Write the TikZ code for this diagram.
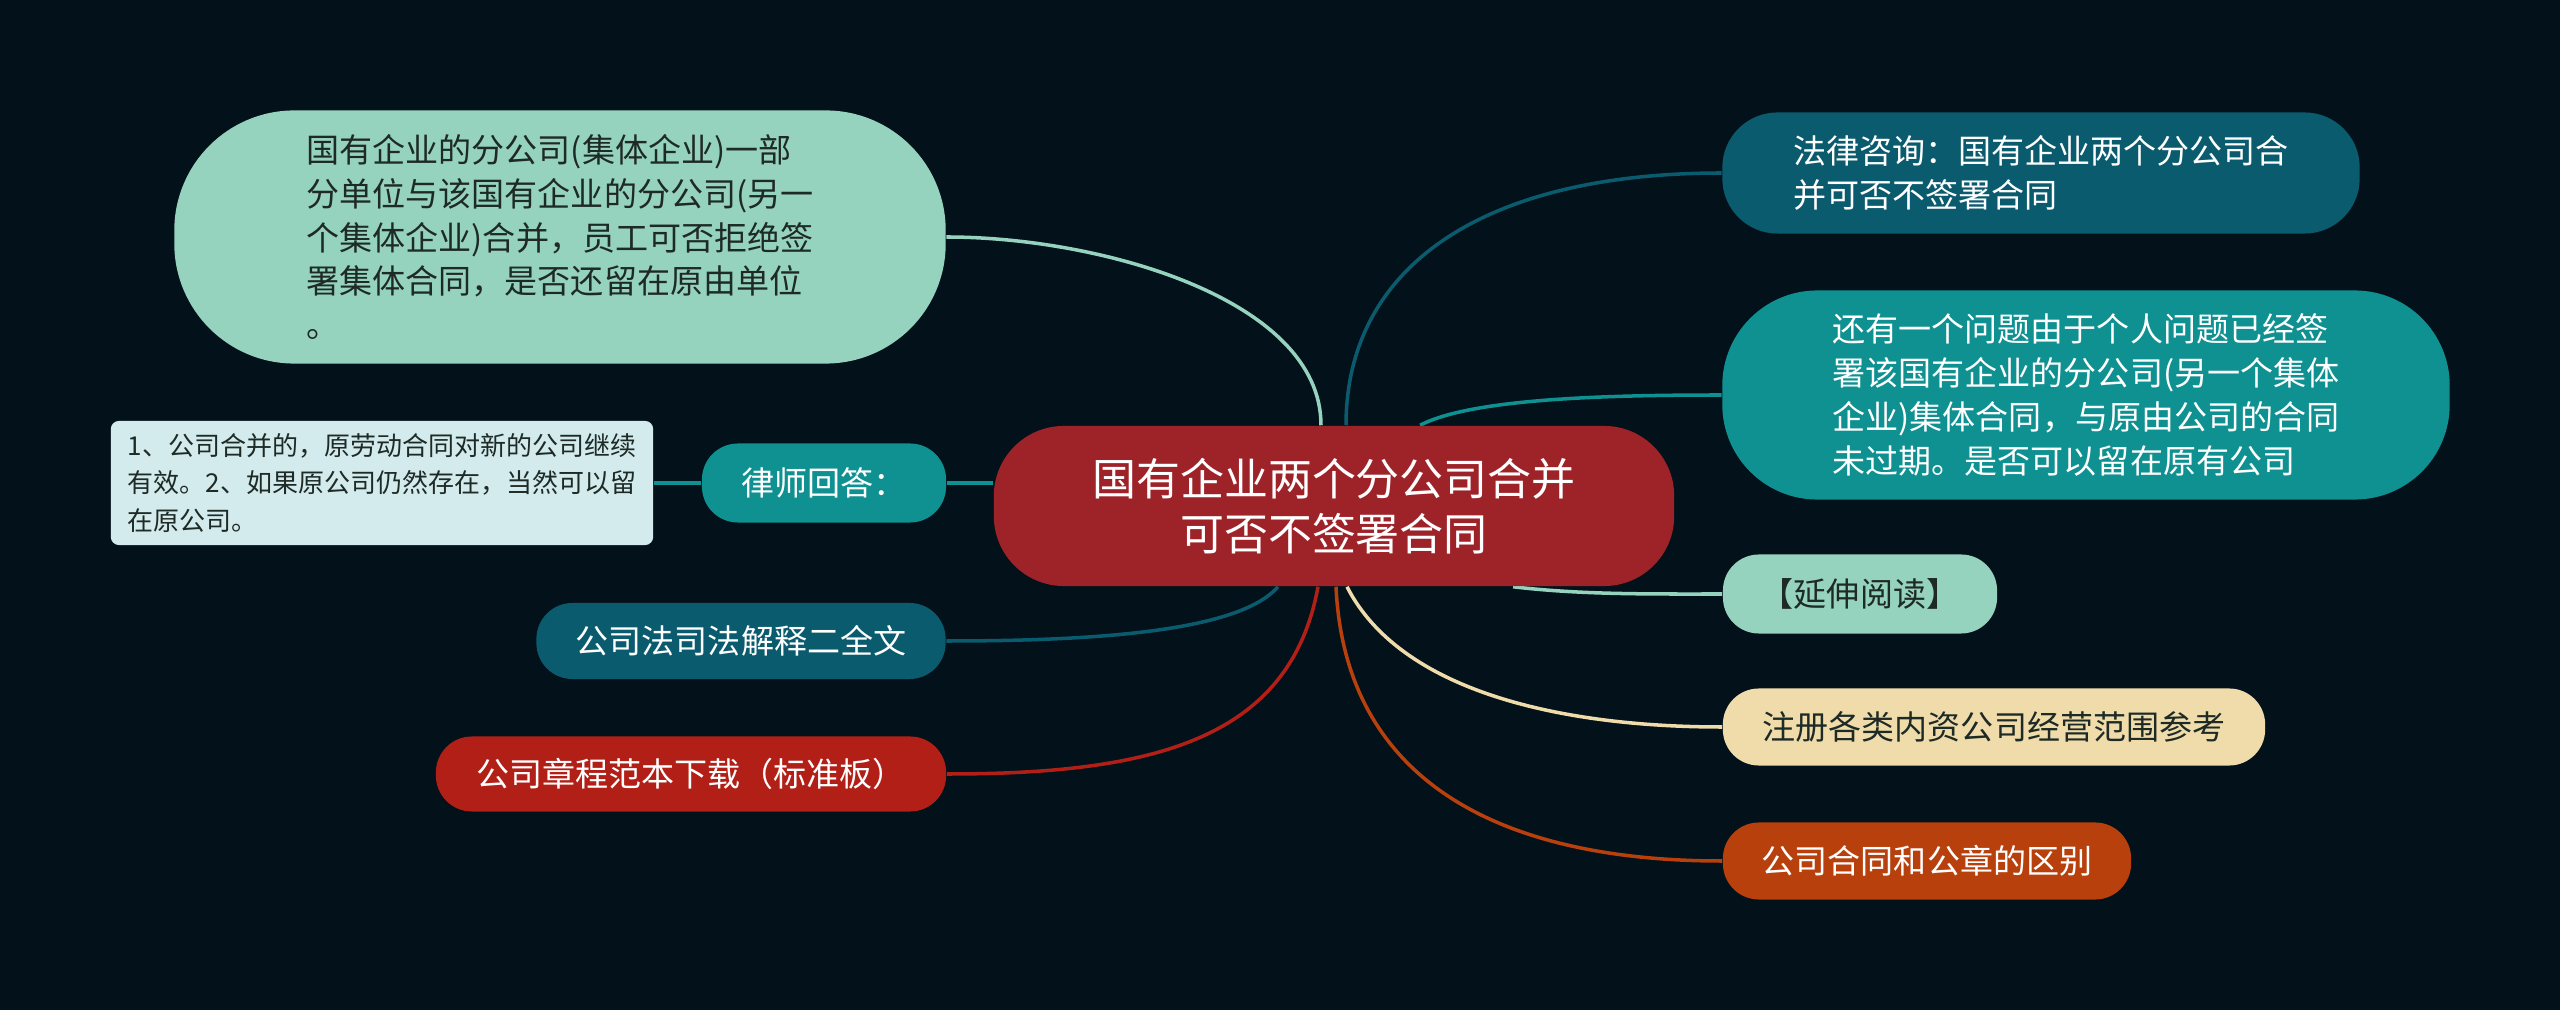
\documentclass[tikz,border=0pt]{standalone}
\usepackage{fontspec}
\setmainfont{Noto Sans CJK SC}
\usepackage{xcolor}
\usetikzlibrary{
    positioning,
    backgrounds,
}
\definecolor{bgnavy}{HTML}{03111A}
\definecolor{rootred}{HTML}{9E2329}
\definecolor{mint}{HTML}{96D3BF}
\definecolor{deepteal}{HTML}{0B5B6E}
\definecolor{midteal}{HTML}{0F9091}
\definecolor{brick}{HTML}{B21F16}
\definecolor{cream}{HTML}{EFDCAA}
\definecolor{rust}{HTML}{B8400D}
\definecolor{paleblue}{HTML}{D4EBEE}
\definecolor{inkdark}{HTML}{1E2A25}
\pgfdeclarelayer{edgelayer}
\pgfsetlayers{background,edgelayer,main}
\tikzset{
    % Node styles
    root node/.style={rectangle, rounded corners=7mm, fill=rootred, text=white,
                      align=center, inner sep=0pt, minimum width=6.8cm, minimum height=1.6cm,
                      font=\fontsize{12.5pt}{15.8pt}\selectfont},
    branch/.style={rectangle, rounded corners=#1, inner sep=0pt, align=left, text=white,
                   font=\fontsize{9.4pt}{12.5pt}\selectfont},
    branch/.default=3.6mm,
    note box/.style={rectangle, rounded corners=0.8mm, fill=paleblue, text=inkdark,
                     align=left, inner sep=0pt, font=\fontsize{7.4pt}{10.7pt}\selectfont},
    % Connector styles
    link/.style={line width=1pt},
}

\begin{document}
\begin{tikzpicture}[x=0.01cm, y=-0.01cm]
    % Canvas
    \begin{pgfonlayer}{background}
        \fill[bgnavy] (0,0) rectangle (2560,1010);
    \end{pgfonlayer}

    % Central topic
    \node[root node] (root) at (1334,506) {国有企业两个分公司合并\\可否不签署合同};

    % Left branches
    \node[branch=12mm, fill=mint, text=inkdark, minimum width=7.71cm, minimum height=2.53cm]
        (merge) at (560,237) {国有企业的分公司(集体企业)一部\\分单位与该国有企业的分公司(另一\\个集体企业)合并，员工可否拒绝签\\署集体合同，是否还留在原由单位\\。};
    \node[branch, fill=midteal, minimum width=2.44cm, minimum height=0.79cm]
        (lawyer) at (824,483) {律师回答：};
    \node[note box, minimum width=5.42cm, minimum height=1.24cm]
        (answer) at (382,483) {1、公司合并的，原劳动合同对新的公司继续\\有效。2、如果原公司仍然存在，当然可以留\\在原公司。};
    \node[branch, fill=deepteal, minimum width=4.09cm, minimum height=0.76cm]
        (judicial) at (741,641) {公司法司法解释二全文};
    \node[branch, fill=brick, minimum width=5.1cm, minimum height=0.75cm]
        (charter) at (691,774) {公司章程范本下载（标准板）};

    % Right branches
    \node[branch=5.5mm, fill=deepteal, minimum width=6.37cm, minimum height=1.21cm]
        (consult) at (2041,173) {法律咨询：国有企业两个分公司合\\并可否不签署合同};
    \node[branch=9.5mm, fill=midteal, minimum width=7.27cm, minimum height=2.09cm]
        (issue) at (2086,395) {还有一个问题由于个人问题已经签\\署该国有企业的分公司(另一个集体\\企业)集体合同，与原由公司的合同\\未过期。是否可以留在原有公司};
    \node[branch, fill=mint, text=inkdark, minimum width=2.74cm, minimum height=0.79cm]
        (reading) at (1860,594) {【延伸阅读】};
    \node[branch, fill=cream, text=inkdark, minimum width=5.42cm, minimum height=0.77cm]
        (register) at (1994,727) {注册各类内资公司经营范围参考};
    \node[branch, fill=rust, minimum width=4.08cm, minimum height=0.77cm]
        (seal) at (1927,861) {公司合同和公章的区别};

    % Connectors
    \begin{pgfonlayer}{edgelayer}
        \draw[link, draw=mint] ([xshift=-1.3mm]root.north) .. controls +(0,-126) and +(154,0) .. (merge.east);
        \draw[link, draw=deepteal] ([xshift=1.2mm]root.north) .. controls +(0,-156) and +(-243,0) .. (consult.west);
        \draw[link, draw=midteal] ([xshift=8.6mm]root.north) .. controls +(50,-26) and +(-123,0) .. (issue.west);
        \draw[link, draw=midteal] (lawyer.east) -- (lawyer.east -| root.west);
        \draw[link, draw=midteal] (lawyer.west) -- (answer.east);
        \draw[link, draw=deepteal] ([xshift=-5.6mm]root.south) .. controls +(-38,44) and +(154,0) .. (judicial.east);
        \draw[link, draw=brick] ([xshift=-1.6mm]root.south) .. controls +(-28,154) and +(204,0) .. (charter.east);
        \draw[link, draw=mint] ([xshift=17.9mm]root.south) .. controls +(67,8) and +(-73,0) .. (reading.west);
        \draw[link, draw=cream] ([xshift=1.3mm]root.south) .. controls +(53,104) and +(-163,0) .. (register.west);
        \draw[link, draw=rust] ([xshift=0.2mm]root.south) .. controls +(9,194) and +(-223,0) .. (seal.west);
    \end{pgfonlayer}
\end{tikzpicture}
\end{document}
